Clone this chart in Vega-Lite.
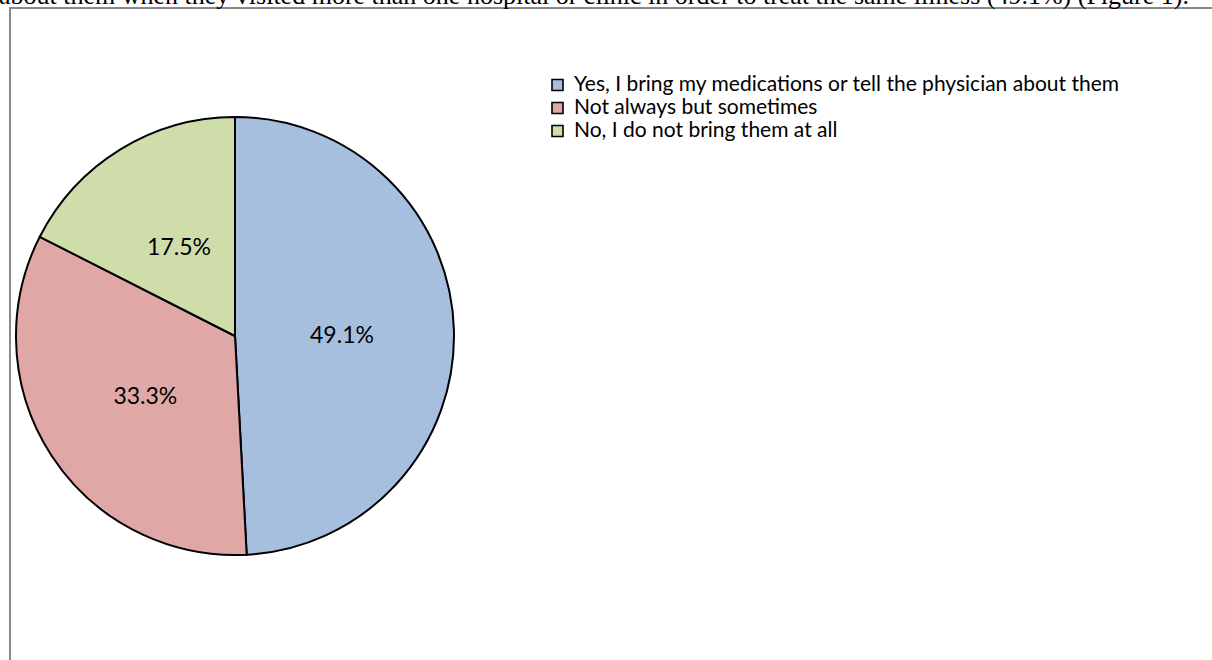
{
  "$schema": "https://vega.github.io/schema/vega-lite/v6.json",
  "autosize": "none",
  "width": 1204,
  "height": 654,
  "padding": {"left": 10, "top": 8, "right": -2, "bottom": -2},
  "background": "white",
  "title": {
    "text": "about them when they visited more than one hospital or clinic in order to treat the same illness (49.1%) (Figure 1).",
    "anchor": "start",
    "frame": "group",
    "orient": "top",
    "offset": -2,
    "dx": -11,
    "font": "Liberation Serif",
    "fontSize": 26,
    "fontWeight": "normal",
    "color": "black"
  },
  "config": {
    "view": {"stroke": null}
  },
  "datasets": {
    "answers": [
      {"answer": "Yes, I bring my medications or tell the physician about them", "share": 49.1, "label": "49.1%", "rank": 1},
      {"answer": "Not always but sometimes", "share": 33.3, "label": "33.3%", "rank": 2},
      {"answer": "No, I do not bring them at all", "share": 17.5, "label": "17.5%", "rank": 3}
    ]
  },
  "layer": [
    {
      "description": "chart frame",
      "data": {"values": [{"frame": 1}]},
      "mark": {"type": "rect", "x": 0, "y": 0, "x2": "width", "y2": "height", "fill": null, "stroke": "#8a8a8a", "strokeWidth": 2},
      "encoding": {}
    },
    {
      "data": {"name": "answers"},
      "mark": {"type": "arc", "x": 225, "y": 328, "outerRadius": 219, "stroke": "black", "strokeWidth": 2},
      "encoding": {
        "theta": {"field": "share", "type": "quantitative", "stack": true},
        "order": {"field": "rank", "type": "ordinal"},
        "color": {
          "field": "answer",
          "type": "nominal",
          "sort": null,
          "scale": {
            "domain": ["Yes, I bring my medications or tell the physician about them", "Not always but sometimes", "No, I do not bring them at all"],
            "range": ["#A7BFDE", "#DFA7A6", "#CFDDAB"]
          },
          "legend": {
            "title": null,
            "orient": "none",
            "legendX": 537,
            "legendY": 66.5,
            "padding": 0,
            "symbolType": "square",
            "symbolSize": 121,
            "symbolStrokeColor": "black",
            "symbolStrokeWidth": 1.6,
            "labelFont": "Lato",
            "labelFontSize": 21,
            "labelColor": "black",
            "labelLimit": 0,
            "labelOffset": 6,
            "rowPadding": 1
          }
        }
      }
    },
    {
      "data": {"name": "answers"},
      "mark": {"type": "text", "x": 225, "y": 328, "radius": 107, "dy": 3, "font": "Lato", "fontSize": 23, "color": "black"},
      "encoding": {
        "theta": {"field": "share", "type": "quantitative", "stack": true},
        "order": {"field": "rank", "type": "ordinal"},
        "text": {"field": "label"}
      }
    }
  ]
}
